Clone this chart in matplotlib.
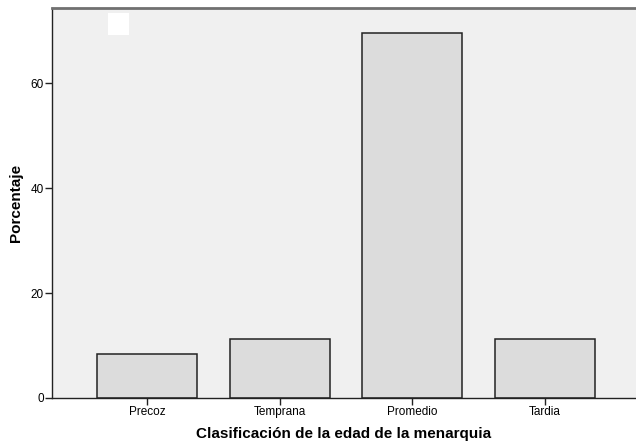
import matplotlib
matplotlib.use("Agg")
import matplotlib.pyplot as plt
from matplotlib.patches import Rectangle

categorias = ["Precoz", "Temprana", "Promedio", "Tardia"]
porcentaje = [8.4, 11.2, 69.6, 11.2]
yticks = [0, 20, 40, 60]

plt.rcParams['font.family'] = ['Liberation Sans', 'DejaVu Sans']

fig = plt.figure(figsize=(6.36, 4.43), dpi=100)
ax = fig.add_axes([52 / 636, 45 / 443, 584 / 636, 390 / 443])
ax.set_facecolor("#f0f0f0")

x = range(len(categorias))
ax.bar(x, porcentaje, width=0.755, color="#dcdcdc", edgecolor="#222222", linewidth=1.1)

ax.set_xlim(-0.717, 3.687)
ax.set_ylim(0, 74.3)
ax.set_xticks(list(x))
ax.set_xticklabels(categorias, fontsize=8.5)
ax.set_yticks(yticks)
ax.set_yticklabels([str(v) for v in yticks], fontsize=8.5)
ax.tick_params(length=5, width=1, color="#222222", pad=1)

for side in ["left", "bottom"]:
    ax.spines[side].set_color("#222222")
    ax.spines[side].set_linewidth(1)
ax.spines["top"].set_color("#707070")
ax.spines["top"].set_linewidth(2)
ax.spines["right"].set_visible(False)

ax.set_xlabel("Clasificación de la edad de la menarquia", fontsize=11,
              fontweight="bold", labelpad=6)
ax.set_ylabel("Porcentaje", fontsize=11, fontweight="bold", labelpad=5)

# white legend remnant
fig.patches.append(Rectangle((108 / 636, 1 - 35 / 443), 21 / 636, 22 / 443,
                             transform=fig.transFigure, facecolor="white",
                             edgecolor="none", zorder=5))

fig.savefig("out.png", dpi=100)
